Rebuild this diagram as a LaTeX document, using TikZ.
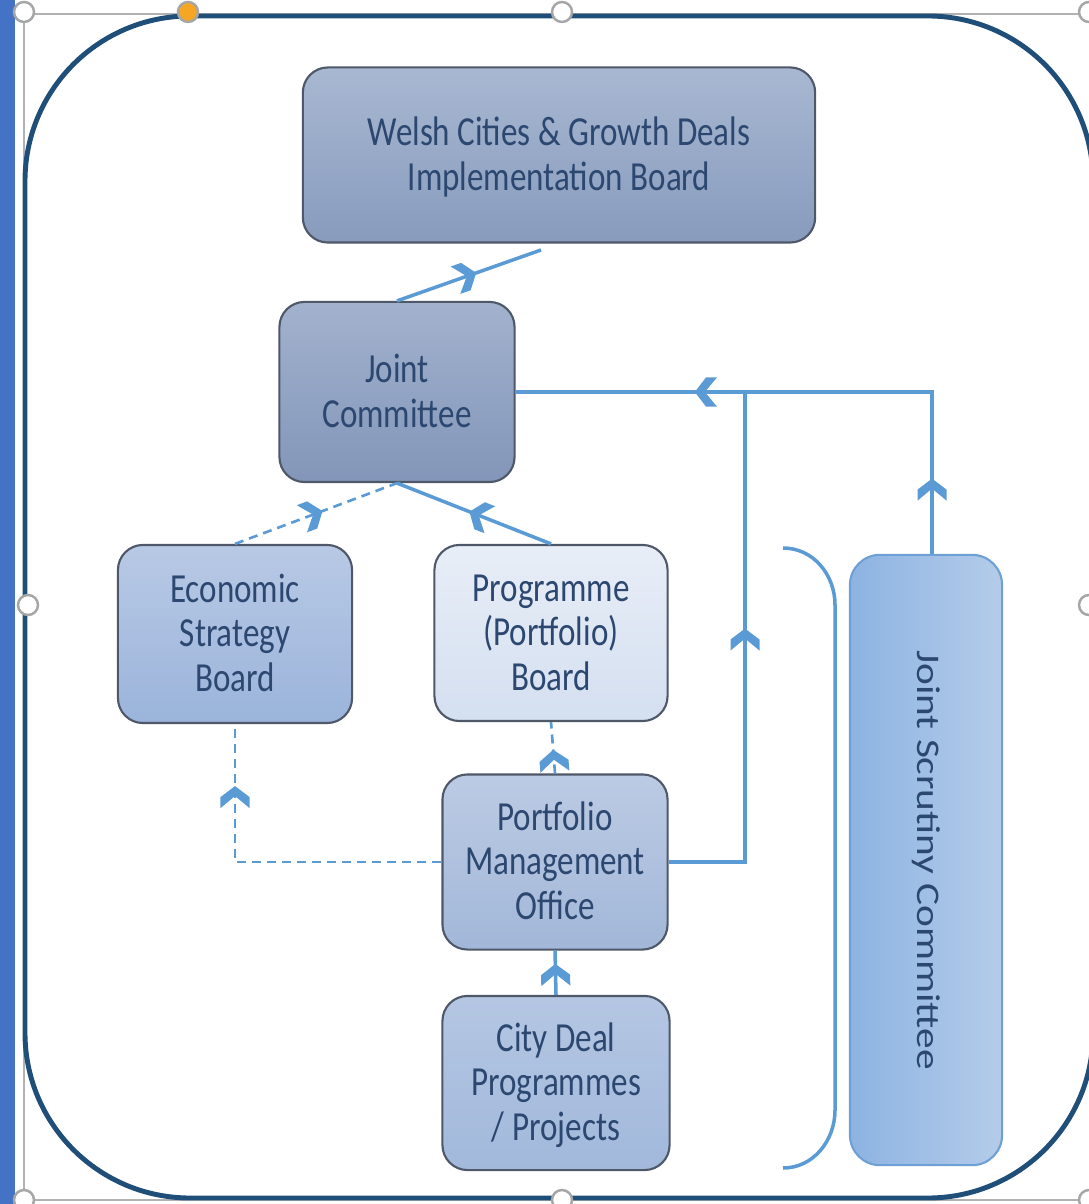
\documentclass[tikz,border=0pt]{standalone}
\usepackage{fontspec}
\setmainfont{Carlito}
\usetikzlibrary{decorations.markings}

\definecolor{linkblue}{HTML}{5B9BD5}
\definecolor{framedark}{HTML}{1F4E79}
\definecolor{txtblue}{HTML}{2C4770}
\definecolor{edgegray}{HTML}{4F5869}
\definecolor{stripblue}{HTML}{4472C4}

% stretched box text, sat a little low in its box
\newcommand{\boxlabel}[1]{\raisebox{-0.04cm}[\height][\depth]{\scalebox{1}[1.25]{\begin{tabular}{@{}c@{}}#1\end{tabular}}}}

\tikzset{
  orgbox/.style={draw=edgegray, line width=0.6pt, rounded corners=0.25cm, text=txtblue,
    font=\fontsize{9.4}{10.2}\selectfont, inner sep=0pt},
  link/.style={draw=linkblue, line width=1pt},
  dashlink/.style={draw=linkblue, line width=0.75pt, dash pattern=on 0.09cm off 0.06cm},
  chev/.style={postaction={decorate, decoration={markings, mark=at position #1 with
    {\fill[linkblue] (0,0) -- (-0.11cm,0.145cm) -- (-0.22cm,0.145cm) -- (-0.10cm,0)
      -- (-0.22cm,-0.145cm) -- (-0.11cm,-0.145cm) -- cycle;}}}},
  handle/.style={draw=gray!70, fill=white, line width=0.7pt}
}

\begin{document}
\begin{tikzpicture}[x=0.01cm,y=-0.01cm]
\useasboundingbox (0,0) rectangle (1089,1204);
\clip (0,0) rectangle (1089,1204);

% selection frame
\fill[stripblue] (0,0) rectangle (15,1204);
\draw[gray!60, line width=0.7pt] (24,14) rectangle (1100,1200);
\draw[framedark, line width=1.4pt, rounded corners=1.65cm] (25,16) rectangle (1093,1198);

% boxes
\node[orgbox, top color={rgb,255:red,168;green,184;blue,210}, bottom color={rgb,255:red,136;green,155;blue,189},
  minimum width=5.12cm, minimum height=1.75cm] (wcgd) at (559,155)
  {\boxlabel{Welsh Cities \& Growth Deals\\Implementation Board}};
\node[orgbox, top color={rgb,255:red,162;green,178;blue,206}, bottom color={rgb,255:red,131;green,150;blue,185},
  minimum width=2.35cm, minimum height=1.80cm] (jc) at (397,392)
  {\boxlabel{Joint\\Committee}};
\node[orgbox, top color={rgb,255:red,184;green,201;blue,229}, bottom color={rgb,255:red,155;green,180;blue,219},
  minimum width=2.34cm, minimum height=1.78cm] (esb) at (235,634)
  {\boxlabel{Economic\\Strategy\\Board}};
\node[orgbox, top color={rgb,255:red,232;green,238;blue,247}, bottom color={rgb,255:red,212;green,223;blue,240},
  minimum width=2.33cm, minimum height=1.76cm] (ppb) at (551,633)
  {\boxlabel{Programme\\(Portfolio)\\Board}};
\node[orgbox, top color={rgb,255:red,188;green,203;blue,228}, bottom color={rgb,255:red,162;green,183;blue,216},
  minimum width=2.25cm, minimum height=1.75cm] (pmo) at (555,862)
  {\boxlabel{Portfolio\\Management\\Office}};
\node[orgbox, top color={rgb,255:red,180;green,198;blue,226}, bottom color={rgb,255:red,162;green,185;blue,220},
  minimum width=2.27cm, minimum height=1.74cm] (cdp) at (556,1083)
  {\boxlabel{City Deal\\Programmes\\/ Projects}};
\node[orgbox, draw={rgb,255:red,110;green,160;blue,214}, rounded corners=0.3cm,
  left color={rgb,255:red,141;green,179;blue,226}, right color={rgb,255:red,180;green,204;blue,233},
  minimum width=1.52cm, minimum height=6.10cm] (jsc) at (926,860)
  {\rotatebox{-90}{\scalebox{1.25}[1]{Joint Scrutiny Committee}}};

% bracket
\draw[linkblue, line width=1pt] (783,548) to[out=0,in=90] (835,605) -- (835,1110)
  to[out=-90,in=0] (783,1168);

% connectors
\coordinate (wcgdfoot) at (541,250);
\coordinate (junc) at (745,390);
\draw[link, chev=0.55] (jc.north) -- (wcgdfoot);
\draw[link, chev=0.53] (ppb.north) -- (jc.south);
\draw[dashlink, chev=0.54] (esb.north) -- (jc.south);
\draw[link, chev=0.13, chev=0.69] ([xshift=0.06cm]jsc.north) |- (jc.east);
\draw[link, chev=0.565] (pmo.east) -| (junc);
\draw[dashlink, chev=0.46] (pmo.north) -- (ppb.south);
\draw[dashlink, chev=0.82] (pmo.west) -| (esb.south);
\draw[link, chev=0.7] (cdp.north) -- (pmo.south);

% handles
\foreach \hx/\hy in {24/12, 562/12, 1089/12, 28/605, 1089/605, 24/1200, 562/1200, 1089/1200}
  \draw[handle] (\hx,\hy) circle (0.1cm);
\draw[handle, fill={rgb,255:red,245;green,166;blue,35}] (188,12) circle (0.1cm);
\end{tikzpicture}
\end{document}
